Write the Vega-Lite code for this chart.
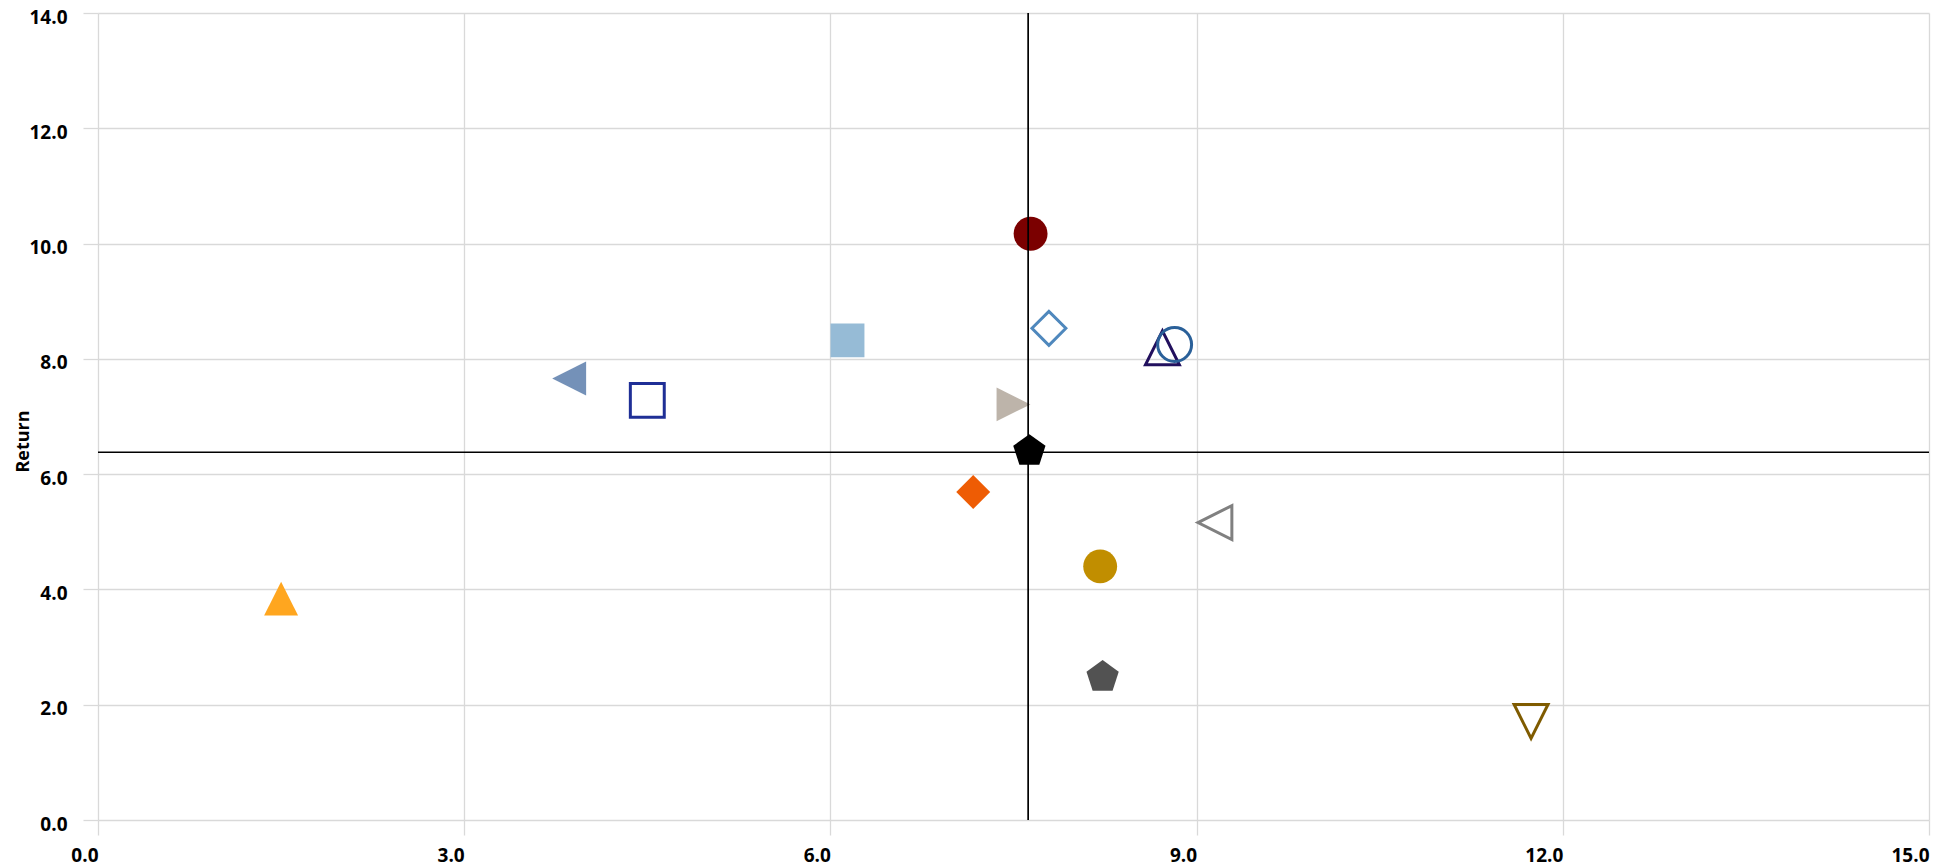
{
  "$schema": "https://vega.github.io/schema/vega-lite/v6.json",
  "autosize": "none",
  "width": 1831,
  "height": 807,
  "padding": {"left": 98, "top": 13, "right": 27, "bottom": 48},
  "background": "white",
  "config": {
    "view": {"stroke": null},
    "font": "Open Sans",
    "axis": {
      "labelFont": "Open Sans",
      "labelFontWeight": "bold",
      "labelFontSize": 19,
      "labelColor": "#000000",
      "gridColor": "#D9D9D9",
      "gridWidth": 1.3,
      "tickColor": "#D9D9D9",
      "tickWidth": 1.3,
      "tickSize": 15,
      "domain": false,
      "titleFont": "Open Sans",
      "titleFontWeight": "bold",
      "titleFontSize": 18,
      "titleColor": "#000000"
    }
  },
  "datasets": {
    "points": [
      {"series": "S1", "risk": 7.64, "ret": 10.17},
      {"series": "S2", "risk": 6.14, "ret": 8.32},
      {"series": "S3", "risk": 7.79, "ret": 8.53},
      {"series": "S4", "risk": 8.72, "ret": 8.19},
      {"series": "S5", "risk": 8.82, "ret": 8.25},
      {"series": "S6", "risk": 3.86, "ret": 7.66},
      {"series": "S7", "risk": 4.50, "ret": 7.28},
      {"series": "S8", "risk": 7.50, "ret": 7.21},
      {"series": "S9", "risk": 7.63, "ret": 6.40},
      {"series": "S10", "risk": 7.17, "ret": 5.69},
      {"series": "S11", "risk": 9.15, "ret": 5.16},
      {"series": "S12", "risk": 8.21, "ret": 4.40},
      {"series": "S13", "risk": 1.50, "ret": 3.84},
      {"series": "S14", "risk": 8.23, "ret": 2.48},
      {"series": "S15", "risk": 11.74, "ret": 1.71}
    ],
    "avgx": [{"risk": 7.62}],
    "avgy": [{"ret": 6.38}]
  },
  "layer": [
    {
      "data": {"name": "points"},
      "mark": {"type": "point", "size": 1150, "strokeWidth": 3, "opacity": 1},
      "encoding": {
        "x": {
          "field": "risk", "type": "quantitative",
          "scale": {"domain": [0, 15], "nice": false, "zero": false},
          "axis": {"title": null, "values": [0, 3, 6, 9, 12, 15], "format": ".1f", "labelPadding": 11, "labelAlign": "right"}
        },
        "y": {
          "field": "ret", "type": "quantitative",
          "scale": {"domain": [0, 14], "nice": false, "zero": false},
          "axis": {"title": "Return", "values": [0, 2, 4, 6, 8, 10, 12, 14], "format": ".1f", "labelPadding": 16, "labelOffset": 4, "titleX": -70, "titleY": 428, "titleBaseline": "alphabetic", "titleAngle": -90}
        },
        "shape": {
          "field": "series", "type": "nominal", "legend": null,
          "scale": {
            "domain": ["S1","S2","S3","S4","S5","S6","S7","S8","S9","S10","S11","S12","S13","S14","S15"],
            "range": ["circle","square","diamond","M0,-1L-1,1L1,1Z","circle","M-1,0L1,-1L1,1Z","square","M1,0L-1,-1L-1,1Z","M0,-1L0.951,-0.309L0.588,0.809L-0.588,0.809L-0.951,-0.309Z","diamond","M-1,0L1,-1L1,1Z","circle","M0,-1L-1,1L1,1Z","M0,-1L0.951,-0.309L0.588,0.809L-0.588,0.809L-0.951,-0.309Z","M-1,-1L1,-1L0,1Z"]
          }
        },
        "fill": {
          "field": "series", "type": "nominal", "legend": null,
          "scale": {
            "domain": ["S1","S2","S3","S4","S5","S6","S7","S8","S9","S10","S11","S12","S13","S14","S15"],
            "range": ["#7B0000","#96BBD6","transparent","transparent","transparent","#7491B8","transparent","#BDB4AA","#000000","#EE5C04","transparent","#C18E00","#FFA61F","#525252","transparent"]
          }
        },
        "stroke": {
          "field": "series", "type": "nominal", "legend": null,
          "scale": {
            "domain": ["S1","S2","S3","S4","S5","S6","S7","S8","S9","S10","S11","S12","S13","S14","S15"],
            "range": ["transparent","transparent","#4F88BD","#22105E","#2A6099","transparent","#1F2F96","transparent","transparent","transparent","#808080","transparent","transparent","transparent","#7F5B00"]
          }
        }
      }
    },
    {
      "data": {"name": "avgx"},
      "mark": {"type": "rule", "color": "#000000", "strokeWidth": 1.7},
      "encoding": {"x": {"field": "risk", "type": "quantitative"}}
    },
    {
      "data": {"name": "avgy"},
      "mark": {"type": "rule", "color": "#000000", "strokeWidth": 1.7},
      "encoding": {"y": {"field": "ret", "type": "quantitative"}}
    }
  ]
}
